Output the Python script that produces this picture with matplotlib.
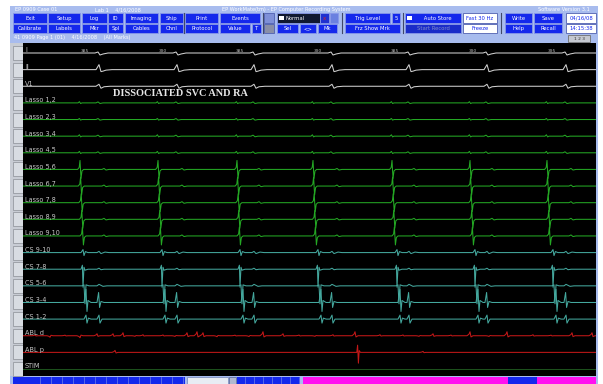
import numpy as np
import matplotlib.pyplot as plt
from matplotlib.patches import Rectangle

# ---- data ----
channels = ["I", "II", "V1", "Lasso 1,2", "Lasso 2,3", "Lasso 3,4", "Lasso 4,5",
            "Lasso 5,6", "Lasso 6,7", "Lasso 7,8", "Lasso 8,9", "Lasso 9,10",
            "CS 9-10", "CS 7-8", "CS 5-6", "CS 3-4", "CS 1-2", "ABL d", "ABL p", "STIM"]

page_ms = 2865                      # time shown across the page
qrs_ms = [385, 775, 1160, 1550, 1935, 2325, 2720]
lasso_ms = [285, 675, 1070, 1450, 1845, 2235, 2620]
cs_ms = [300, 695, 1085, 1475, 1870, 2260, 2650]
cycle_labels = ["385", "390", "385", "390", "385", "390", "395"]

# templates: (offset ms, deflection px, + = up)
tpl_I = ([-25, -10, 0, 15, 40], [0, 1, -2, -1, 0])
tpl_II = ([-20, -5, 5, 15, 30, 60], [0, 5, -2, -1.5, -0.5, 0])
tpl_V1 = ([-20, -5, 5, 20, 50], [0, 2, -2, -0.5, 0])
tpl_lasso_small = ([-10, -3, 3, 10], [0, 1.5, -0.8, 0])
tpl_lasso_big = ([-12, -4, 0, 5, 10, 18], [0, 2, 9, -9, -1.5, 0])
tpl_ff = ([-10, 0, 10, 25], [0, 1, -0.6, 0])
tpl_cs = {
    "CS 9-10": ([-10, 0, 5, 12, 25], [0, 3, -3, 1, 0]),
    "CS 7-8": ([-10, -3, 0, 5, 10, 25], [0, 4, -18, 2, -1, 0]),
    "CS 5-6": ([-10, 0, 5, 10, 25], [0, 1, -18, 1, 0]),
    "CS 3-4": ([-10, 0, 5, 10, 25], [0, 13, -9, 2, 0]),
    "CS 1-2": ([-10, 0, 5, 12, 25], [0, 4, -4, 1, 0]),
}
tpl_cs_ff = {
    "CS 9-10": ([-10, 0, 10, 30, 50], [0, 1.2, -1, 0.5, 0]),
    "CS 7-8": ([-10, 0, 10, 25], [0, 1, -0.5, 0]),
    "CS 5-6": ([-10, 0, 20, 40], [0, 1.5, -0.5, 0]),
    "CS 3-4": ([-10, -2, 3, 10, 25], [0, 10, -5, 1, 0]),
    "CS 1-2": ([-10, 0, 5, 15], [0, 4, -4, 0]),
}
lasso_amp = [0.8, 0.7, 0.9, 0.9, 1.0, 1.0, 1.0, 1.0, 1.0]

tpl_bump = ([-15, -5, 0, 5, 15], [0, 0.4, 1, -0.3, 0])
abl_d_ms = [60, 135, 210, 285, 370, 450, 500, 560, 600, 700, 760, 820, 870, 900, 970,
            1060, 1130, 1200, 1300, 1380, 1460, 1550, 1660, 1785, 1900, 1980, 2050,
            2140, 2235, 2330, 2420, 2550, 2640, 2745, 2845]
abl_d_amp = [0.7, -1.5, 0.6, -2, 2, 2, 3, -0.6, 1, 0.8, -0.7, 3, 4, 3, -1,
             0.6, -0.8, 4, 2, 0.7, -0.6, 1, 4, 1, 0.8, -0.6, 2,
             0.7, 4, -0.7, 4, 1, 0.6, 3, 3]
tpl_spike = ([-6, -2, 2, 6, 12], [0, 0.8, -1.2, 0.2, 0])
abl_p_ms = [460, 1675, 2000]
abl_p_amp = [2, 9, 1]

# ---- colours ----
BG = "#a8bcee"
BTN = "#1428ec"
GRAY_TXT = "#c8c8c8"
col = {"ecg": "#d0d0d0", "lasso": "#24a824", "cs": "#44a89e", "abl": "#c41818", "stim": "#1c501c"}


def build(events):
    """events: list of (time, (dt, amp), scale) -> vertices of the trace"""
    xs, ys = [0], [0]
    for t, (dt, amp), s in sorted(events, key=lambda e: e[0]):
        for d, a in zip(dt, amp):
            xs.append(t + d)
            ys.append(a * s)
    xs.append(page_ms)
    ys.append(0)
    return np.array(xs), np.array(ys)


fig = plt.figure(figsize=(6.03, 3.84), dpi=100)
bg = fig.add_axes([0, 0, 1, 1])
bg.set_xlim(0, 603)
bg.set_ylim(384, 0)
bg.axis("off")


def box(x0, y0, x1, y1, fc, ec="none", lw=0.6, z=1):
    bg.add_patch(Rectangle((x0, y0), x1 - x0, y1 - y0, fc=fc, ec=ec, lw=lw, zorder=z))


def button(x0, x1, y0, y1, text, fc=BTN, fg="white", ec="#8898e8"):
    box(x0, y0, x1, y1, fc, ec)
    bg.text((x0 + x1) / 2, (y0 + y1) / 2 + 0.3, text, color=fg, fontsize=3.8,
            ha="center", va="center", zorder=3)


# window frame
box(10, 6, 598, 384, BG)
bg.text(15, 9.5, "EP 0909 Case 01", color="white", fontsize=3.6, va="center")
bg.text(95, 9.5, "Lab 1    4/16/2008", color="white", fontsize=3.6, va="center")
bg.text(222, 9.5, "EP WorkMate(tm) - EP Computer Recording System", color="white",
        fontsize=3.6, va="center")
bg.text(538, 9.5, "Software Version 3.1", color="white", fontsize=3.6, va="center")

row1 = [(13, 47, "Exit"), (48, 80, "Setup"), (82, 107, "Log"), (108, 123, "ID"),
        (125, 158, "Imaging"), (160, 183, "Ship"), (185, 218, "Print"), (220, 260, "Events"),
        (345, 390, "Trig Level"), (392, 400, "5"), (505, 532, "Write"), (534, 562, "Save")]
row2 = [(13, 47, "Calibrate"), (48, 80, "Labels"), (82, 107, "Mkr"), (108, 123, "Spl"),
        (125, 158, "Cables"), (160, 183, "Chnl"), (185, 218, "Protocol"), (220, 250, "Value"),
        (252, 261, "T"), (277, 298, "Sel"), (300, 316, "<>"), (318, 337, "Mk"),
        (345, 400, "Frz Show Mrk"), (505, 532, "Help"), (534, 562, "Recall")]
for x0, x1, t in row1:
    button(x0, x1, 13, 22.5, t)
for x0, x1, t in row2:
    button(x0, x1, 23.5, 32.5, t)

# odd controls
box(264, 13, 274, 22.5, "#7f90d8", "#5060b0")
box(264, 23.5, 274, 32.5, "#8a8fa8", "#5060b0")
box(277, 13, 320, 22.5, "#101830", "#8898e8")
box(279, 15.5, 284, 20, "white")
bg.text(286, 18, "Normal", color="white", fontsize=3.8, va="center", zorder=3)
box(320, 13, 329, 22.5, "#2030d0", "#8898e8")
bg.text(324.5, 18, "x", color="#e02020", fontsize=4, ha="center", va="center", zorder=3)
box(330, 13, 338, 22.5, "#6a80e0", "#8898e8")
button(405, 461, 13, 22.5, "      Auto Store")
box(407, 15.5, 412, 20, "white", z=4)
button(405, 461, 23.5, 32.5, "Start Record", fc="#1a2cc8", fg="#7c88c8")
button(463, 497, 13, 22.5, "Fast 30 Hz", fc="white", fg="#1428ec", ec="#5060b0")
button(463, 497, 23.5, 32.5, "Freeze", fc="white", fg="#1428ec", ec="#5060b0")
button(566, 596, 13, 22.5, "04/16/08", fc="white", fg="#1428ec", ec="#5060b0")
button(566, 596, 23.5, 32.5, "14:15:38", fc="white", fg="#1428ec", ec="#5060b0")
for xs in [184, 262.5, 341.5, 402.5, 501]:
    bg.plot([xs, xs], [13, 32.5], color="#404868", lw=0.8, zorder=2)

# page bar
bg.text(14, 38, "41 0909 Page 1 (01)    4/16/2008    (All Marks)", color="white",
        fontsize=3.6, va="center")
box(568, 35, 590, 42, "#c4c8d0", "#707070")
bg.text(579, 38.6, "1 2 3", color="#303030", fontsize=3.2, ha="center", va="center", zorder=3)

# channel label column
box(10, 43, 23, 376, "#c8ccd4")
top, bottom = 43, 376
spacing = (369 - 53) / (len(channels) - 1)
base = [53 - top + i * spacing for i in range(len(channels))]
for b in base:
    box(13, top + b - 7, 22.5, top + b + 7, "#d8dce2", "#8a8e96", lw=0.5, z=2)

# status bar
box(13, 377, 185, 384, BTN)
for xs in np.arange(40, 185, 11):
    bg.plot([xs, xs], [377, 384], color="#8898e8", lw=0.4, zorder=2)
box(187, 377, 228, 384, "#e8ecf4", "#8090c0")
box(229, 377, 236, 384, "#b0b8d0", "#6070a0")
box(237, 377, 300, 384, BTN)
for xs in np.arange(245, 300, 9):
    bg.plot([xs, xs], [377, 384], color="#8898e8", lw=0.4, zorder=2)
box(303, 377, 596, 384, "#ff10f0")
box(508, 377, 537, 384, BTN)

# ---- signal page ----
ax = fig.add_axes([23 / 603, (384 - bottom) / 384, 573 / 603, (bottom - top) / 384])
ax.set_facecolor("black")
ax.set_xlim(0, page_ms)
ax.set_ylim(bottom - top, 0)
ax.set_xticks([])
ax.set_yticks([])
for s in ax.spines.values():
    s.set_visible(False)

traces = []
traces.append(("ecg", build([(t, tpl_I, 1) for t in qrs_ms])))
traces.append(("ecg", build([(t, tpl_II, 1) for t in qrs_ms])))
traces.append(("ecg", build([(t, tpl_V1, 1) for t in qrs_ms])))
for k in range(9):
    if k < 4:
        ev = [(t, tpl_lasso_small, lasso_amp[k]) for t in lasso_ms]
        ev += [(t - 10, tpl_ff, 1) for t in qrs_ms]
    else:
        ev = [(t + 3 * (k - 4), tpl_lasso_big, lasso_amp[k]) for t in lasso_ms]
        ev += [(t + 20, tpl_ff, 1) for t in qrs_ms]
    traces.append(("lasso", build(ev)))
for name in ["CS 9-10", "CS 7-8", "CS 5-6", "CS 3-4", "CS 1-2"]:
    shift = {"CS 9-10": 0, "CS 7-8": 0, "CS 5-6": 5, "CS 3-4": 15, "CS 1-2": 15}[name]
    ev = [(t + shift, tpl_cs[name], 1) for t in cs_ms]
    ev += [(t - 5, tpl_cs_ff[name], 1) for t in qrs_ms]
    traces.append(("cs", build(ev)))
traces.append(("abl", build([(t, tpl_bump, a) for t, a in zip(abl_d_ms, abl_d_amp)])))
traces.append(("abl", build([(t, tpl_spike if a > 5 else tpl_bump, a)
                             for t, a in zip(abl_p_ms, abl_p_amp)])))
traces.append(("stim", build([])))

for b, (kind, (x, y)) in zip(base, traces):
    ax.plot(x, b - y, color=col[kind], lw=0.75, solid_joinstyle="round")

for t, lab in zip(qrs_ms, cycle_labels):
    ax.text(t - 75, base[0] - 2, lab, color="#b8b8b8", fontsize=3.2, ha="center", va="center")

ax.text(450, 50, "DISSOCIATED SVC AND RA", color="#e8e8e8", fontsize=7.4,
        family="Liberation Serif", fontweight="bold", va="center")

for b, name in zip(base, channels):
    ax.text(10, b - 2.5, name, color=GRAY_TXT, fontsize=4.7, va="center")

fig.savefig("out.png", dpi=100)
